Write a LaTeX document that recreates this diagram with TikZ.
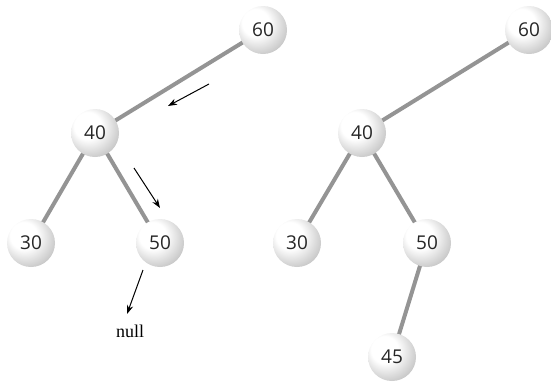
\documentclass[tikz,border=0pt]{standalone}
\usepackage{fontspec}
\setmainfont{Liberation Serif}
\newfontfamily\numfont{Open Sans}
\usetikzlibrary{arrows.meta,backgrounds}
\pgfdeclareradialshading{pearl}{\pgfpoint{-10bp}{10bp}}{%
  color(0bp)=(white); color(14bp)=(white); color(30bp)=(black!20);
  color(48bp)=(black!48); color(60bp)=(black!55)}
\tikzset{
  ball/.style={circle, minimum size=48pt, inner sep=0pt, shading=pearl,
    font=\numfont\fontsize{19}{19}\selectfont, text=black!85},
  link/.style={line width=4pt, draw=black!42},
  hint/.style={-{Stealth[length=9pt,width=6.5pt]}, line width=1pt},
}
\begin{document}
\begin{tikzpicture}[x=1pt,y=-1pt]
\useasboundingbox (0,0) rectangle (551,381);
% left tree: the search path for 45
\node[ball] (a60) at (263,30) {60};
\node[ball] (a40) at (95,133) {40};
\node[ball] (a30) at (31,243) {30};
\node[ball] (a50) at (160,243) {50};
\node[font=\fontsize{18}{18}\selectfont] (anull) at (130,331) {null};
% right tree: after inserting 45
\node[ball] (b60) at (529,30) {60};
\node[ball] (b40) at (362,133) {40};
\node[ball] (b30) at (297,243) {30};
\node[ball] (b50) at (427,243) {50};
\node[ball] (b45) at (392,357) {45};
% edges behind the balls
\begin{scope}[on background layer]
\draw[link] (a60.center) -- (a40.center);
\draw[link] (a40.center) -- (a30.center);
\draw[link] (a40.center) -- (a50.center);
\draw[link] (b60.center) -- (b40.center);
\draw[link] (b40.center) -- (b30.center);
\draw[link] (b40.center) -- (b50.center);
\draw[link] (b50.center) -- (b45.center);
\end{scope}
% direction arrows
\coordinate (s1) at (209,84);  \coordinate (e1) at (168,106);
\coordinate (s2) at (134,168); \coordinate (e2) at (160,208);
\coordinate (s3) at (143,270); \coordinate (e3) at (127,314);
\draw[hint] (s1) -- (e1);
\draw[hint] (s2) -- (e2);
\draw[hint] (s3) -- (e3);
\end{tikzpicture}
\end{document}
